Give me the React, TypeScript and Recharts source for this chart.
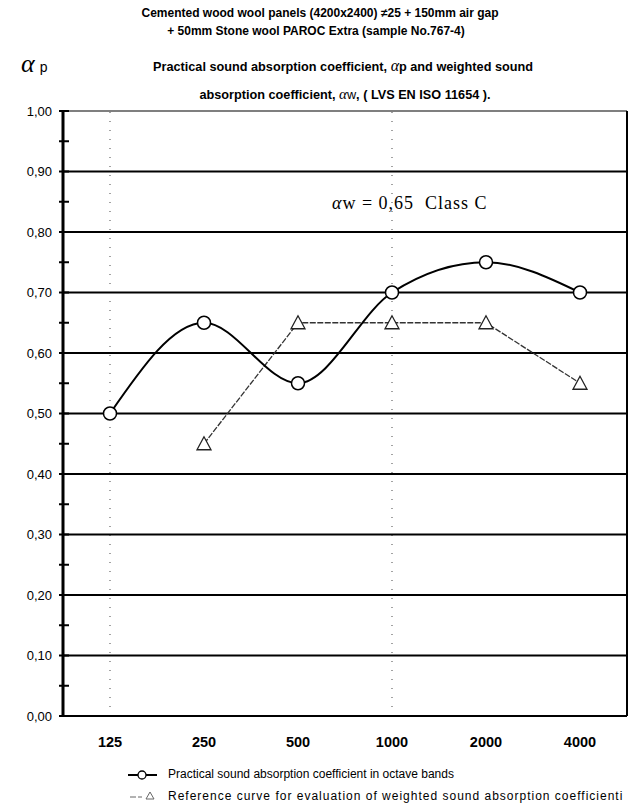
import { LineChart, Line, XAxis, YAxis, ReferenceLine } from 'recharts';

// ============================================
// Sound absorption chart (sample No.767-4)
// ============================================

const freqs = ['125', '250', '500', '1000', '2000', '4000'];
const practical = [0.5, 0.65, 0.55, 0.7, 0.75, 0.7];
const reference: (number | null)[] = [null, 0.45, 0.65, 0.65, 0.65, 0.55];

const yTicks = [0, 0.05, 0.1, 0.15, 0.2, 0.25, 0.3, 0.35, 0.4, 0.45, 0.5, 0.55, 0.6, 0.65, 0.7, 0.75, 0.8, 0.85, 0.9, 0.95, 1];
const gridValues = [0.1, 0.2, 0.3, 0.4, 0.5, 0.6, 0.7, 0.8, 0.9];
const dottedFreqs = ['125', '1000'];

const data = freqs.map((f, i) => ({ freq: f, practical: practical[i], reference: reference[i] }));

const SANS = '"Liberation Sans", Arial, sans-serif';
const SERIF = '"Liberation Serif", serif';

function YTick({ x, y, payload }: any) {
  const v = payload.value as number;
  const major = Math.round(v * 100) % 10 === 0;
  return (
    <g>
      <line x1={x - 4} x2={x + 6} y1={y} y2={y} stroke="#000" strokeWidth={2} />
      {major && (
        <text x={x - 11} y={y} dy="0.36em" textAnchor="end" fontSize={13} fontFamily={SANS} fill="#000">
          {v.toFixed(2).replace('.', ',')}
        </text>
      )}
    </g>
  );
}

function XTick({ x, y, payload }: any) {
  return (
    <text x={x} y={y + 31} textAnchor="middle" fontSize={14.5} fontWeight="bold" fontFamily={SANS} fill="#000">
      {payload.value}
    </text>
  );
}

function CircleDot({ cx, cy }: any) {
  if (cx == null || cy == null) return null;
  return <circle cx={cx} cy={cy} r={6.5} fill="#fff" stroke="#000" strokeWidth={1.5} />;
}

function TriangleDot({ cx, cy, value }: any) {
  if (cx == null || cy == null || value == null) return null;
  const pts = `${cx},${cy - 7} ${cx - 7},${cy + 6} ${cx + 7},${cy + 6}`;
  return <polygon points={pts} fill="#fff" stroke="#222" strokeWidth={1.3} />;
}

export default function App() {
  return (
    <div style={{ position: 'relative', width: 636, height: 807, fontFamily: SANS, color: '#000', background: '#fff' }}>
      <style>{`body{margin:0}`}</style>

      {/* Titles */}
      <div style={{ position: 'absolute', left: 320, top: 6, transform: 'translateX(-50%)', whiteSpace: 'nowrap', fontSize: 12, fontWeight: 'bold' }}>
        Cemented wood wool panels (4200x2400) ≠25 + 150mm air gap
      </div>
      <div style={{ position: 'absolute', left: 316, top: 24, transform: 'translateX(-50%)', whiteSpace: 'nowrap', fontSize: 12, fontWeight: 'bold' }}>
        + 50mm Stone wool PAROC Extra (sample No.767-4)
      </div>
      <div style={{ position: 'absolute', left: 21, top: 49, whiteSpace: 'nowrap' }}>
        <span style={{ fontSize: 26, fontStyle: 'italic', fontFamily: SERIF }}>α</span>
        <span style={{ fontSize: 14, marginLeft: 5 }}>p</span>
      </div>
      <div style={{ position: 'absolute', left: 343, top: 57, transform: 'translateX(-50%)', whiteSpace: 'nowrap', fontSize: 12.7, fontWeight: 'bold' }}>
        Practical sound absorption coefficient,{' '}
        <span style={{ fontStyle: 'italic', fontFamily: SERIF, fontSize: 16, fontWeight: 'normal' }}>α</span>p and weighted sound
      </div>
      <div style={{ position: 'absolute', left: 345, top: 86, transform: 'translateX(-50%)', whiteSpace: 'nowrap', fontSize: 12.7, fontWeight: 'bold' }}>
        absorption coefficient,{' '}
        <span style={{ fontStyle: 'italic', fontFamily: SERIF, fontSize: 15, fontWeight: 'normal' }}>α</span>
        <span style={{ fontWeight: 'normal' }}>w</span>, ( LVS EN ISO 11654 ).
      </div>

      <LineChart width={636} height={807} data={data} margin={{ top: 111, right: 8, bottom: 61, left: 8 }}>
        <XAxis
          dataKey="freq"
          height={30}
          padding={{ left: 47, right: 47 }}
          tickSize={0}
          tickMargin={0}
          tick={<XTick />}
          axisLine={{ stroke: '#000', strokeWidth: 2 }}
          tickLine={false}
        />
        <YAxis
          yAxisId="l"
          domain={[0, 1]}
          ticks={yTicks}
          interval={0}
          width={55}
          tickSize={0}
          tickMargin={0}
          tick={<YTick />}
          tickLine={false}
          axisLine={{ stroke: '#000', strokeWidth: 3 }}
        />
        <YAxis
          yAxisId="r"
          orientation="right"
          domain={[0, 1]}
          width={1}
          tick={false}
          tickLine={false}
          axisLine={{ stroke: '#000', strokeWidth: 2 }}
        />

        {dottedFreqs.map((f) => (
          <ReferenceLine key={f} yAxisId="l" x={f} stroke="#666" strokeWidth={1.2} strokeDasharray="1 8" />
        ))}
        {gridValues.map((v) => (
          <ReferenceLine key={v} yAxisId="l" y={v} stroke="#000" strokeWidth={2} />
        ))}
        <ReferenceLine yAxisId="l" y={1} stroke="#000" strokeWidth={1.2} />

        <Line
          yAxisId="l"
          type="linear"
          dataKey="reference"
          stroke="#333"
          strokeWidth={1.3}
          strokeDasharray="6 1.5"
          dot={<TriangleDot />}
          activeDot={false}
          isAnimationActive={false}
        />
        <Line
          yAxisId="l"
          type="monotone"
          dataKey="practical"
          stroke="#000"
          strokeWidth={2}
          dot={<CircleDot />}
          activeDot={false}
          isAnimationActive={false}
        />
      </LineChart>

      {/* Annotation */}
      <div style={{ position: 'absolute', left: 332, top: 193, whiteSpace: 'nowrap', fontSize: 18, letterSpacing: 1, fontFamily: SERIF }}>
        <span style={{ fontStyle: 'italic' }}>α</span>w = 0,65&nbsp; Class C
      </div>

      {/* Legend */}
      <svg style={{ position: 'absolute', left: 126, top: 768 }} width={34} height={34}>
        <line x1={2} x2={31} y1={7} y2={7} stroke="#000" strokeWidth={2} />
        <circle cx={16} cy={7} r={4} fill="#fff" stroke="#000" strokeWidth={1.3} />
        <path d="M4,29 L10,29 M12,29 L16,29" stroke="#666" strokeWidth={1} />
        <polygon points="24,24 20,31 28,31" fill="#fff" stroke="#666" strokeWidth={1} />
      </svg>
      <div style={{ position: 'absolute', left: 168, top: 767, whiteSpace: 'nowrap', fontSize: 12 }}>
        Practical sound absorption coefficient in octave bands
      </div>
      <div style={{ position: 'absolute', left: 168, top: 789, whiteSpace: 'nowrap', fontSize: 12, letterSpacing: 1 }}>
        Reference curve for evaluation of weighted sound absorption coefficienti
      </div>
    </div>
  );
}
